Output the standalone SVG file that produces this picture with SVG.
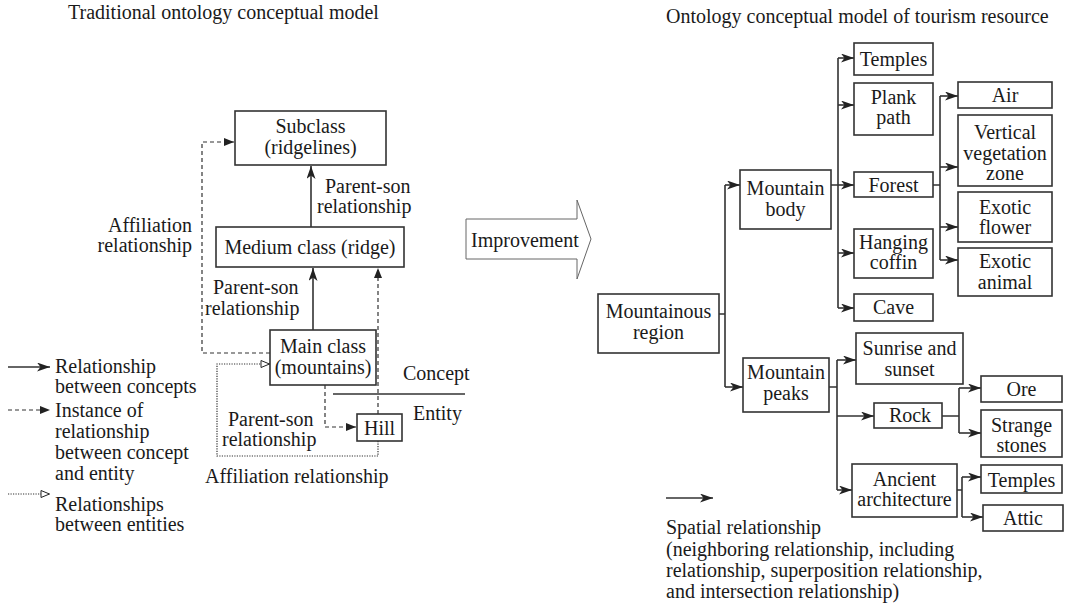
<svg xmlns="http://www.w3.org/2000/svg" width="1080" height="606" viewBox="0 0 1080 606">
<defs>
<marker id="ah" markerWidth="13" markerHeight="9" refX="13" refY="4.5" orient="auto" markerUnits="userSpaceOnUse"><path d="M0,0 L13,4.5 L0,9 L3.5,4.5 Z" fill="#222" stroke="none"/></marker>
<marker id="ahs" markerWidth="10" markerHeight="8" refX="10" refY="4" orient="auto" markerUnits="userSpaceOnUse"><path d="M0,0 L10,4 L0,8 Z" fill="#222" stroke="none"/></marker>
<marker id="ao" markerWidth="10" markerHeight="9" refX="10" refY="4.5" orient="auto" markerUnits="userSpaceOnUse"><path d="M1,1 L9.5,4.5 L1,8 Z" fill="#fff" stroke="#222" stroke-width="1" stroke-dasharray="none"/></marker>
</defs>
<rect width="1080" height="606" fill="#fff"/>
<text x="68" y="19" style="font-family:'Liberation Serif',serif;font-size:20px" fill="#1a1a1a">Traditional ontology conceptual model</text>
<text x="666" y="23" style="font-family:'Liberation Serif',serif;font-size:20px" fill="#1a1a1a">Ontology conceptual model of tourism resource</text>
<g id="connectors" fill="none" stroke="#333" stroke-width="1.6">
<path d="M311,227 V166" marker-end="url(#ah)"/>
<path d="M313,330 V268" marker-end="url(#ah)"/>
<g stroke-width="1.2" stroke-dasharray="4 3">
<path d="M270,353 H202 V142 H234" marker-end="url(#ahs)"/>
<path d="M378,414 V268" marker-end="url(#ahs)"/>
<path d="M325,385 V427 H356" marker-end="url(#ahs)"/>
</g>
<path d="M378,441 V456 H217 V364 H270" stroke-width="1.2" stroke-dasharray="1.2 1.3" marker-end="url(#ao)"/>
<path d="M333,394 H465"/>
<path d="M719,314 H725 M725,185 V387"/>
<path d="M725,185 H740" marker-end="url(#ah)"/>
<path d="M725,387 H743" marker-end="url(#ah)"/>
<path d="M831,185 H838 M838,58 V308"/>
<path d="M838,58 H854" marker-end="url(#ah)"/>
<path d="M838,105 H854" marker-end="url(#ah)"/>
<path d="M838,185 H854" marker-end="url(#ah)"/>
<path d="M838,253 H854" marker-end="url(#ah)"/>
<path d="M838,308 H854" marker-end="url(#ah)"/>
<path d="M933,185 H940 M940,96 V260"/>
<path d="M940,96 H958" marker-end="url(#ah)"/>
<path d="M940,167 H958" marker-end="url(#ah)"/>
<path d="M940,227 H958" marker-end="url(#ah)"/>
<path d="M940,260 H958" marker-end="url(#ah)"/>
<path d="M829,387 H837 M837,360 V490"/>
<path d="M837,360 H856" marker-end="url(#ah)"/>
<path d="M837,416 H874" marker-end="url(#ah)"/>
<path d="M837,490 H852" marker-end="url(#ah)"/>
<path d="M942,416 H959 M959,388 V433"/>
<path d="M959,388 H981" marker-end="url(#ah)"/>
<path d="M959,433 H981" marker-end="url(#ah)"/>
<path d="M957,490 H962 M962,477 V517"/>
<path d="M962,477 H981" marker-end="url(#ah)"/>
<path d="M962,517 H983" marker-end="url(#ah)"/>
</g>
<g id="labels-left" fill="#1a1a1a">
<text x="325" y="193" style="font-family:'Liberation Serif',serif;font-size:20px">Parent-son</text>
<text x="317" y="213" style="font-family:'Liberation Serif',serif;font-size:20px">relationship</text>
<text x="192" y="232" text-anchor="end" style="font-family:'Liberation Serif',serif;font-size:20px">Affiliation</text>
<text x="192" y="252" text-anchor="end" style="font-family:'Liberation Serif',serif;font-size:20px">relationship</text>
<text x="213" y="294" style="font-family:'Liberation Serif',serif;font-size:20px">Parent-son</text>
<text x="205" y="315" style="font-family:'Liberation Serif',serif;font-size:20px">relationship</text>
<text x="228" y="426" style="font-family:'Liberation Serif',serif;font-size:20px">Parent-son</text>
<text x="222" y="446" style="font-family:'Liberation Serif',serif;font-size:20px">relationship</text>
<text x="403" y="380" style="font-family:'Liberation Serif',serif;font-size:20px">Concept</text>
<text x="413" y="420" style="font-family:'Liberation Serif',serif;font-size:20px">Entity</text>
<text x="205" y="483" style="font-family:'Liberation Serif',serif;font-size:20px">Affiliation relationship</text>
</g>
<g id="nodes" fill="#1a1a1a" text-anchor="middle">
<g id="subclass"><rect x="235" y="111" width="151" height="54" fill="#fff" stroke="#333" stroke-width="1.6"/><text x="310.5" y="133" style="font-family:'Liberation Serif',serif;font-size:20px">Subclass</text><text x="310.5" y="154" style="font-family:'Liberation Serif',serif;font-size:20px">(ridgelines)</text></g>
<g id="medium"><rect x="216" y="227" width="188" height="40" fill="#fff" stroke="#333" stroke-width="1.6"/><text x="310" y="254" style="font-family:'Liberation Serif',serif;font-size:20px">Medium class (ridge)</text></g>
<g id="mainclass"><rect x="270" y="330" width="106" height="55" fill="#fff" stroke="#333" stroke-width="1.6"/><text x="323" y="353" style="font-family:'Liberation Serif',serif;font-size:20px">Main class</text><text x="323" y="374" style="font-family:'Liberation Serif',serif;font-size:20px">(mountains)</text></g>
<g id="hill"><rect x="357" y="414" width="45" height="27" fill="#fff" stroke="#333" stroke-width="1.6"/><text x="379.5" y="435" style="font-family:'Liberation Serif',serif;font-size:20px">Hill</text></g>
<g id="region"><rect x="598" y="294" width="121" height="59" fill="#fff" stroke="#333" stroke-width="1.6"/><text x="658.5" y="318" style="font-family:'Liberation Serif',serif;font-size:20px">Mountainous</text><text x="658.5" y="339" style="font-family:'Liberation Serif',serif;font-size:20px">region</text></g>
<g id="body"><rect x="740" y="170" width="91" height="59" fill="#fff" stroke="#333" stroke-width="1.6"/><text x="785.5" y="195" style="font-family:'Liberation Serif',serif;font-size:20px">Mountain</text><text x="785.5" y="216" style="font-family:'Liberation Serif',serif;font-size:20px">body</text></g>
<g id="peaks"><rect x="743" y="358" width="86" height="54" fill="#fff" stroke="#333" stroke-width="1.6"/><text x="786" y="379" style="font-family:'Liberation Serif',serif;font-size:20px">Mountain</text><text x="786" y="400" style="font-family:'Liberation Serif',serif;font-size:20px">peaks</text></g>
<g id="temples1"><rect x="854" y="43" width="79" height="32" fill="#fff" stroke="#333" stroke-width="1.6"/><text x="893.5" y="66" style="font-family:'Liberation Serif',serif;font-size:20px">Temples</text></g>
<g id="plank"><rect x="854" y="83" width="79" height="52" fill="#fff" stroke="#333" stroke-width="1.6"/><text x="893.5" y="104" style="font-family:'Liberation Serif',serif;font-size:20px">Plank</text><text x="893.5" y="124" style="font-family:'Liberation Serif',serif;font-size:20px">path</text></g>
<g id="forest"><rect x="854" y="172" width="79" height="25" fill="#fff" stroke="#333" stroke-width="1.6"/><text x="893.5" y="192" style="font-family:'Liberation Serif',serif;font-size:20px">Forest</text></g>
<g id="coffin"><rect x="854" y="229" width="79" height="49" fill="#fff" stroke="#333" stroke-width="1.6"/><text x="893.5" y="249" style="font-family:'Liberation Serif',serif;font-size:20px">Hanging</text><text x="893.5" y="269" style="font-family:'Liberation Serif',serif;font-size:20px">coffin</text></g>
<g id="cave"><rect x="854" y="294" width="79" height="27" fill="#fff" stroke="#333" stroke-width="1.6"/><text x="893.5" y="314" style="font-family:'Liberation Serif',serif;font-size:20px">Cave</text></g>
<g id="air"><rect x="958" y="82" width="94" height="26" fill="#fff" stroke="#333" stroke-width="1.6"/><text x="1005" y="102" style="font-family:'Liberation Serif',serif;font-size:20px">Air</text></g>
<g id="vegetation"><rect x="958" y="115" width="94" height="71" fill="#fff" stroke="#333" stroke-width="1.6"/><text x="1005" y="139" style="font-family:'Liberation Serif',serif;font-size:20px">Vertical</text><text x="1005" y="160" style="font-family:'Liberation Serif',serif;font-size:20px">vegetation</text><text x="1005" y="180" style="font-family:'Liberation Serif',serif;font-size:20px">zone</text></g>
<g id="flower"><rect x="958" y="192" width="94" height="50" fill="#fff" stroke="#333" stroke-width="1.6"/><text x="1005" y="214" style="font-family:'Liberation Serif',serif;font-size:20px">Exotic</text><text x="1005" y="234" style="font-family:'Liberation Serif',serif;font-size:20px">flower</text></g>
<g id="animal"><rect x="958" y="248" width="94" height="48" fill="#fff" stroke="#333" stroke-width="1.6"/><text x="1005" y="268" style="font-family:'Liberation Serif',serif;font-size:20px">Exotic</text><text x="1005" y="289" style="font-family:'Liberation Serif',serif;font-size:20px">animal</text></g>
<g id="sunrise"><rect x="856" y="333" width="107" height="51" fill="#fff" stroke="#333" stroke-width="1.6"/><text x="909.5" y="355" style="font-family:'Liberation Serif',serif;font-size:20px">Sunrise and</text><text x="909.5" y="376" style="font-family:'Liberation Serif',serif;font-size:20px">sunset</text></g>
<g id="rock"><rect x="874" y="403" width="68" height="25" fill="#fff" stroke="#333" stroke-width="1.6"/><text x="910" y="422" style="font-family:'Liberation Serif',serif;font-size:20px">Rock</text></g>
<g id="ancient"><rect x="852" y="464" width="105" height="53" fill="#fff" stroke="#333" stroke-width="1.6"/><text x="904.5" y="486" style="font-family:'Liberation Serif',serif;font-size:20px">Ancient</text><text x="904.5" y="506" style="font-family:'Liberation Serif',serif;font-size:20px">architecture</text></g>
<g id="ore"><rect x="981" y="376" width="81" height="26" fill="#fff" stroke="#333" stroke-width="1.6"/><text x="1021.5" y="396" style="font-family:'Liberation Serif',serif;font-size:20px">Ore</text></g>
<g id="strange"><rect x="981" y="410" width="81" height="47" fill="#fff" stroke="#333" stroke-width="1.6"/><text x="1021.5" y="432" style="font-family:'Liberation Serif',serif;font-size:20px">Strange</text><text x="1021.5" y="452" style="font-family:'Liberation Serif',serif;font-size:20px">stones</text></g>
<g id="temples2"><rect x="981" y="465" width="81" height="28" fill="#fff" stroke="#333" stroke-width="1.6"/><text x="1021.5" y="487" style="font-family:'Liberation Serif',serif;font-size:20px">Temples</text></g>
<g id="attic"><rect x="983" y="505" width="80" height="26" fill="#fff" stroke="#333" stroke-width="1.6"/><text x="1023" y="525" style="font-family:'Liberation Serif',serif;font-size:20px">Attic</text></g>
</g>
<g id="improvement"><path d="M466,219 H577 V200 L591,239 L577,279 V259 H466 Z" fill="#fff" stroke="#666" stroke-width="1"/><text x="471" y="247" style="font-family:'Liberation Serif',serif;font-size:20px" fill="#1a1a1a">Improvement</text></g>
<g id="legend-left" fill="#1a1a1a">
<path d="M8,367 H50" fill="none" stroke="#333" stroke-width="1.6" marker-end="url(#ah)"/>
<text x="55" y="373" style="font-family:'Liberation Serif',serif;font-size:20px">Relationship</text>
<text x="55" y="393" style="font-family:'Liberation Serif',serif;font-size:20px">between concepts</text>
<path d="M8,410 H50" fill="none" stroke="#333" stroke-width="1.2" stroke-dasharray="4 3" marker-end="url(#ahs)"/>
<text x="55" y="417" style="font-family:'Liberation Serif',serif;font-size:20px">Instance of</text>
<text x="55" y="438" style="font-family:'Liberation Serif',serif;font-size:20px">relationship</text>
<text x="55" y="459" style="font-family:'Liberation Serif',serif;font-size:20px">between concept</text>
<text x="55" y="480" style="font-family:'Liberation Serif',serif;font-size:20px">and entity</text>
<path d="M8,494 H50" fill="none" stroke="#333" stroke-width="1.2" stroke-dasharray="1.2 1.3" marker-end="url(#ao)"/>
<text x="55" y="511" style="font-family:'Liberation Serif',serif;font-size:20px">Relationships</text>
<text x="55" y="531" style="font-family:'Liberation Serif',serif;font-size:20px">between entities</text>
</g>
<g id="legend-right" fill="#1a1a1a">
<path d="M666,498 H713" fill="none" stroke="#333" stroke-width="1.6" marker-end="url(#ah)"/>
<text x="666" y="534" style="font-family:'Liberation Serif',serif;font-size:20px">Spatial relationship</text>
<text x="666" y="556" style="font-family:'Liberation Serif',serif;font-size:20px">(neighboring relationship, including</text>
<text x="666" y="577" style="font-family:'Liberation Serif',serif;font-size:20px">relationship, superposition relationship,</text>
<text x="666" y="598" style="font-family:'Liberation Serif',serif;font-size:20px">and intersection relationship)</text>
</g>
</svg>
